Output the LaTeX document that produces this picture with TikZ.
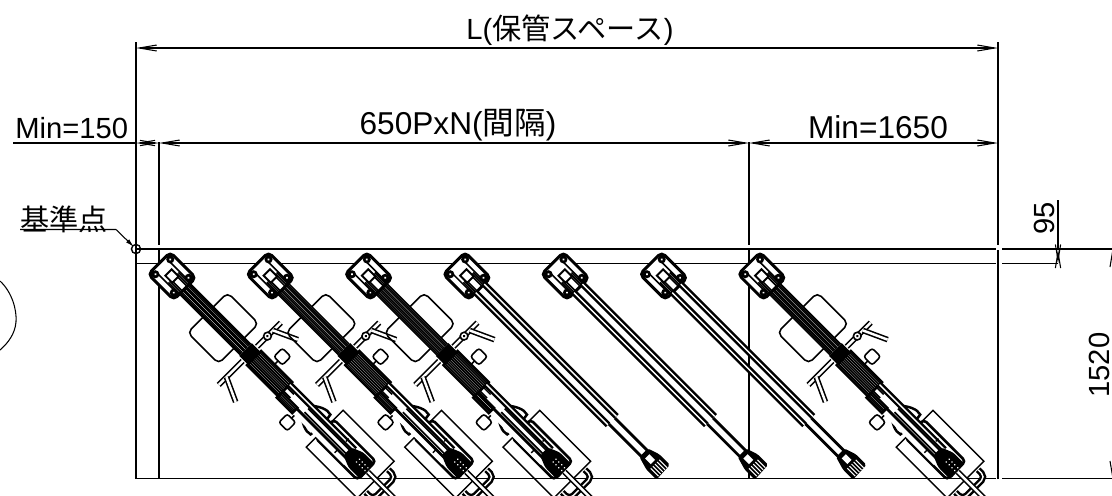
\documentclass[tikz,border=0pt]{standalone}
\usepackage{fontspec}
\setmainfont{Liberation Sans}
\newfontfamily\cjk{Noto Sans CJK JP}
\usetikzlibrary{calc}
\usetikzlibrary{positioning}
\usetikzlibrary{arrows.meta}

\tikzset{
  lbl/.style={inner sep=0pt,font=\fontsize{16.6}{20}\selectfont},
  biglbl/.style={inner sep=0pt,font=\fontsize{18}{20}\selectfont},
  frameline/.style={line width=0.8pt},
  dimline/.style={line width=0.6pt,{Straight Barb[length=10pt,width=3.4pt]}-{Straight Barb[length=10pt,width=3.4pt]}},
  shortdim/.style={line width=0.6pt,{Straight Barb[length=9pt,width=3pt]}-{Straight Barb[length=9pt,width=3pt]}},
  heavy/.style={line width=1.4pt},
  bar/.style={line width=0.9pt,double=white,double distance=1.4pt},
  railbar/.style={line width=1.4pt,double=white,double distance=0.8pt}
}

\newcommand{\plateparts}{
  \draw[line width=1.7pt,fill=white,rounded corners=2.5pt] (-18,-15.5) rectangle (18,15.5);
  \draw[line width=0.9pt] (-15,-8.5) -- (18,-8.5) (-15,8.5) -- (18,8.5);
  \foreach \a/\b in {-13/-10.5,13/-10.5,-13/10.5,13/10.5} {
    \fill (\a,\b) circle [radius=2.3pt];
    \fill[white] (\a,\b) circle [radius=0.7pt];
  }
  \foreach \b in {-7,-5.2,-3.4,3.4,5.2,7}
    \draw[line width=0.9pt] (2,\b) -- (18,\b);
  \draw[line width=1.1pt,fill=white] (-5,-4.5) rectangle (5,4.5);
}

\tikzset{
  emptyarm/.pic={
    \plateparts
    \draw[railbar] (18,-6.5) -- (205,-6.5);
    \draw[railbar] (18,5.5) -- (205,5.5);
    \draw[line width=1.6pt] (205,-4.2) -- (254,-4.2) (205,4.2) -- (254,4.2);
    \fill[rounded corners=1pt] (250,-6) -- (262,-10) -- (277,-10) -- (278,10) -- (264,10) -- (250,6) -- cycle;
    \fill[white] (255,-3) rectangle (263,3);
    \foreach \b in {-6,-3,0,3,6}
      \draw[white,line width=0.6pt] (266,\b) -- (277,\b);
  },
  bikearm/.pic={
    % rear basket and tray
    \draw[line width=0.8pt] (216,-26) rectangle (288,26);
    \draw[line width=1.5pt,rounded corners=2pt] (216,-13) rectangle (275,13);
    \draw[railbar,rounded corners=3pt] (290,-16) -- (300,-16) -- (300,16) -- (290,16);
    % seat
    \draw[line width=0.9pt,rounded corners=3pt] (51,-27.5) rectangle (95,29);
    % handlebar
    \draw[bar] (110,-44) -- (110,44);
    \draw[bar,rounded corners=2pt] (110,-33) -- (134,-44);
    \draw[bar,rounded corners=2pt] (110,33) -- (134,44);
    \draw[line width=0.9pt,fill=white] (110,-25) circle [radius=2.2pt];
    \fill (110,-25) circle [radius=0.8pt];
    % small boxes
    \draw[line width=0.9pt,fill=white,rounded corners=1.5pt] (129,-27) rectangle (141,-15);
    \draw[line width=0.9pt] (135,-15) -- (135,-10);
    \draw[line width=0.9pt,fill=white,rounded corners=1.5pt] (179,16) rectangle (191,28);
    \draw[line width=0.9pt] (185,16) -- (185,10);
    % fender
    \draw[heavy] (188,-5) .. controls (196,-12) and (204,-16) .. (210,-14) -- (211,-7);
    \draw[heavy] (188,5) .. controls (196,12) and (204,16) .. (210,14) -- (211,7);
    % arm body
    \fill[white] (18,-7.5) rectangle (104,7.5);
    \fill[white] (104,-10) rectangle (160,10);
    \fill[white] (160,-7) rectangle (255,12);
    \foreach \b in {-7.5,-6,-4.5,-2.5,-1,1,2.5,4.5,6,7.5}
      \draw[line width=0.9pt] (18,\b) -- (104,\b);
    \fill (104,-9) rectangle (116,9);
    \draw[heavy] (116,-10) rectangle (160,10);
    \foreach \b in {-8,-6,-4,-2,0,2,4,6,8}
      \draw[line width=0.95pt] (116,\b) -- (160,\b);
    \draw[railbar] (160,-6.5) -- (252,-6.5);
    \draw[heavy] (160,4.5) rectangle (182,12);
    \foreach \b in {6.5,8.5,10}
      \draw[line width=0.9pt] (160,\b) -- (182,\b);
    \draw[line width=1.6pt] (182,5.5) -- (252,5.5);
    \draw[line width=0.9pt] (160,-2.5) -- (170,-2.5) (160,2.5) -- (170,2.5);
    \draw[line width=1pt] (190,-2.5) -- (252,-2.5) (190,2.5) -- (252,2.5);
    \draw[line width=0.8pt] (240,-10) -- (240,-6) (240,6) -- (240,10);
    % plate and cap
    \plateparts
    \draw[bar] (277,0) -- (315,0);
    \fill[rounded corners=1.5pt] (248,-5.5) -- (260,-10.5) -- (276,-10.5) -- (277,10.5) -- (260,10.5) -- (248,5.5) -- cycle;
    \foreach \a/\b in {262/-3,266/-3,270/-3,274/-3,262/1,266/1,270/1,274/1}
      \fill[white] (\a,\b) circle [radius=0.5pt];
  }
}

\begin{document}
\begin{tikzpicture}[x=0.02cm,y=-0.02cm]
  \clip (0,0) rectangle (1112,495);

  % storage frame
  \draw[frameline] (136,42) -- (136,478.5) -- (996,478.5);
  \draw[frameline] (136,249) -- (996,249);
  \draw[frameline] (136,263.5) -- (996,263.5);
  \draw[frameline] (1002,249) -- (1112,249);
  \draw[frameline] (1002,263.5) -- (1058,263.5);
  \draw[frameline] (1002,478.5) -- (1112,478.5);
  \draw[frameline] (159,142) -- (159,245);
  \draw[frameline] (159,249) -- (159,478.5);
  \draw[frameline] (749,142) -- (749,245);
  \draw[frameline] (749,249) -- (749,478.5);
  \draw[frameline] (998,42) -- (998,245);
  \draw[frameline] (998,250) -- (998,478.5);

  % stands
  \pic[rotate=-45] at (172,276) {bikearm};
  \pic[rotate=-45] at (270.3,276) {bikearm};
  \pic[rotate=-45] at (368.6,276) {bikearm};
  \pic[rotate=-45] at (466.9,276) {emptyarm};
  \pic[rotate=-45] at (565.2,276) {emptyarm};
  \pic[rotate=-45] at (663.5,276) {emptyarm};
  \pic[rotate=-45] at (761.8,276) {bikearm};

  % dimensions
  \draw[dimline] (136,48) -- (998,48);
  \draw[line width=0.6pt] (13,143) -- (136,143);
  \draw[shortdim] (136,143) -- (159,143);
  \draw[dimline] (159,143) -- (749,143);
  \draw[dimline] (749,143) -- (998,143);
  \draw[line width=0.6pt] (1058,200) -- (1058,249);
  \draw[shortdim] (1058,249) -- (1058,263.5);
  \draw[line width=0.6pt] (1113,249) -- (1110,267);
  \draw[line width=0.6pt] (1113,478.5) -- (1110,461);

  % datum point
  \draw[frameline] (136,249) circle [radius=2.6pt];
  \draw[line width=0.6pt,-{Latex[length=5pt,width=2.5pt]}] (20,229.5) -- (116,229.5) -- (134,247);

  % piece of another part at the left edge
  \draw[line width=0.6pt] (0,281) .. controls (12,292) and (17,310) .. (16,322) .. controls (15,334) and (8,343) .. (0,350);

  \node[lbl] (lengthlbl) at (570,30) {L({\cjk 保管スペース})};
  \node[biglbl] (pitchlbl) at (458,125) {650PxN({\cjk 間隔})};
  \node[lbl,anchor=west] (minleftlbl) at (15,128) {Min=150};
  \node[biglbl] (minrightlbl) at (878,127) {Min=1650};
  \node[lbl,anchor=west] (datumlbl) at (20,219) {\cjk 基準点};
  \node[lbl,rotate=90] (gaplbl) at (1044,218) {95};
  \node[lbl,rotate=90] (depthlbl) at (1099,365) {1520};
\end{tikzpicture}
\end{document}
